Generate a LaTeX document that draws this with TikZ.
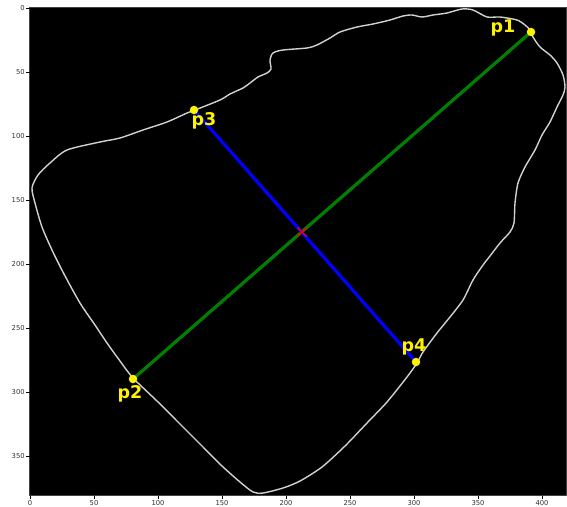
\documentclass[tikz,border=0pt]{standalone}
\usepackage{fontspec}
\setmainfont{DejaVu Sans}
\usetikzlibrary{shapes.misc}
\tikzset{
  contour/.style={draw=white!82!black, line width=1.4pt, line join=round},
  greenline/.style={draw={rgb,255:red,0;green,128;blue,0}, line width=3.2pt},
  blueline/.style={draw={rgb,255:red,0;green,0;blue,255}, line width=3.2pt},
  dot/.style={circle, fill=yellow, inner sep=0pt, minimum size=8.5pt},
  plabel/.style={text=yellow, font=\fontsize{17.5}{17.5}\selectfont\bfseries, inner sep=0pt},
  xmark/.style={cross out, draw=red, line width=1.1pt, minimum size=8pt, inner sep=0pt},
  tick/.style={draw=black, line width=0.6pt},
  ticklabel/.style={font=\fontsize{6.8}{7}\selectfont, text=black!80, inner sep=1pt}
}
\begin{document}
\begin{tikzpicture}[x=1pt,y=-1pt]
\useasboundingbox (0,0) rectangle (567,506);
\fill[white] (0,0) rectangle (567,506);
\fill[black] (29.5,7) rectangle (566,495.5);
\draw[black!75, line width=0.6pt] (29.5,7) rectangle (566,495.5);
% ticks
\foreach \v in {0,50,...,400} {
  \draw[tick] (30+1.28*\v,495.5) -- ++(0,3.5) node[ticklabel, anchor=north] {\v};
}
\foreach \v in {0,50,...,350} {
  \draw[tick] (29.5,8.3+1.28*\v) -- ++(-3.5,0) node[ticklabel, anchor=east] {\v};
}
% contour
\draw[contour] plot[smooth cycle, tension=0.45] coordinates {
(120,138) (143,130) (167,122) (187,113) (195,110) (220,100) (230,94) (243,88) (250,83)
(258,77) (267,73) (271,69) (270,60) (273,53) (283,50) (307,48) (317,45) (330,38)
(340,32) (357,27) (373,24) (390,20) (403,16) (412,15) (422,17) (433,15) (447,13)
(462,9) (473,10) (487,17) (500,17) (517,20) (525,25) (530,30) (533,37) (540,47)
(550,55) (557,63) (563,75) (565,87) (563,95) (557,107) (550,122) (542,135) (535,150)
(525,167) (518,183) (515,203) (514,223) (510,232) (500,243) (490,256) (483,265)
(473,280) (463,300) (450,317) (437,333) (423,352) (417,363) (407,377) (387,402)
(367,423) (345,446) (322,467) (300,481) (283,488) (263,493) (253,492)
(240,482) (222,466) (202,446) (180,424) (157,401) (133,378) (120,361) (107,343)
(95,325) (80,303) (64,274) (52,250) (42,227) (35,203) (32,188) (38,175) (50,163)
(67,150) (100,142)
};
% points
\coordinate (c1) at (531,32);
\coordinate (c2) at (133,379);
\coordinate (c3) at (194,110);
\coordinate (c4) at (416,362);
\draw[greenline] (c1) -- (c2);
\draw[blueline] (c3) -- (c4);
\node[xmark] (m) at (302,232) {};
\node[dot] (p1) at (c1) {};
\node[dot] (p2) at (c2) {};
\node[dot] (p3) at (c3) {};
\node[dot] (p4) at (c4) {};
\node[plabel] (l1) at (503,28) {p1};
\node[plabel] (l2) at (130,394) {p2};
\node[plabel] (l3) at (204,121) {p3};
\node[plabel] (l4) at (414,347) {p4};
\end{tikzpicture}
\end{document}
